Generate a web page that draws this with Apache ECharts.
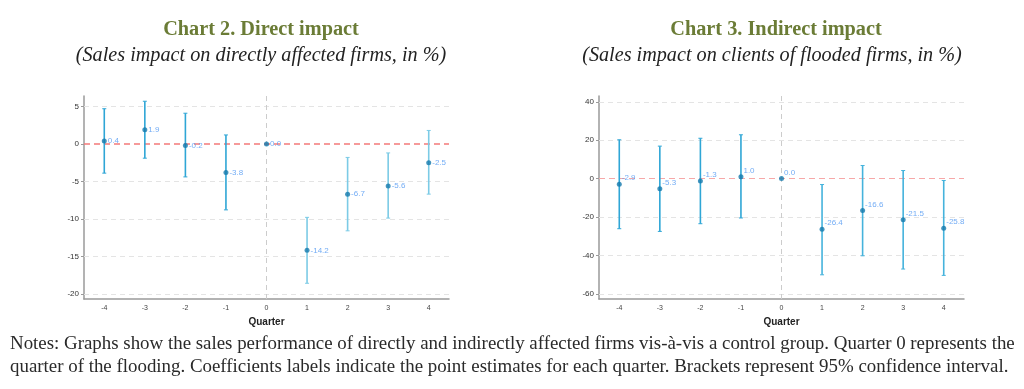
<!DOCTYPE html>
<html>
<head>
<meta charset="utf-8">
<script src="https://cdn.jsdelivr.net/npm/echarts@6/dist/echarts.min.js"></script>
<style>
html,body{margin:0;padding:0;background:#fff;}
#c{width:1024px;height:389px;}
</style>
</head>
<body>
<div id="c"></div>
<script>
var quarters = ['-4','-3','-2','-1','0','1','2','3','4'];
var directEst  = [0.4, 1.9, -0.2, -3.8, 0.0, -14.2, -6.7, -5.6, -2.5];
var directLow  = [-3.9, -1.9, -4.4, -8.8, 0.0, -18.6, -11.6, -9.9, -6.7];
var directHigh = [4.7, 5.7, 4.1, 1.2, 0.0, -9.8, -1.8, -1.2, 1.8];
var indirectEst  = [-2.9, -5.3, -1.3, 1.0, 0.0, -26.4, -16.6, -21.5, -25.8];
var indirectLow  = [-26.1, -27.5, -23.5, -20.5, 0.0, -50.1, -40.2, -47.1, -50.4];
var indirectHigh = [20.2, 16.9, 21.0, 22.8, 0.0, -3.1, 6.8, 4.2, -1.0];
var directTicks = [-20, -15, -10, -5, 0, 5];
var indirectTicks = [-60, -40, -20, 0, 20, 40];
var title1 = 'Chart 2. Direct impact';
var sub1 = '(Sales impact on directly affected firms, in %)';
var title2 = 'Chart 3. Indirect impact';
var sub2 = '(Sales impact on clients of flooded firms, in %)';
var note1 = 'Notes: Graphs show the sales performance of directly and indirectly affected firms vis-à-vis a control group. Quarter 0 represents the';
var note2 = 'quarter of the flooding. Coefficients labels indicate the point estimates for each quarter. Brackets represent 95% confidence interval.';

var chart = echarts.init(document.getElementById('c'));

function errData(low, high) {
  var out = [];
  for (var i = 0; i < quarters.length; i++) {
    if (low[i] === high[i]) continue;
    out.push([i, low[i], high[i]]);
  }
  return out;
}
function refSeries(idx, ticks) {
  var ml = ticks.filter(function (t) { return t !== 0; }).map(function (t) {
    return {yAxis: t, lineStyle: {color: '#e4e4e4', type: [5, 4], width: 1}};
  });
  ml.push({xAxis: '0', lineStyle: {color: '#cccccc', type: [5, 4], width: 1}});
  ml.push({yAxis: 0, lineStyle: {color: idx === 0 ? '#f47a7a' : '#f7a8a8', type: [6, 4], width: idx === 0 ? 1.5 : 1}});
  return {
    type: 'line', xAxisIndex: idx, yAxisIndex: idx, z: 1, data: [], silent: true,
    markLine: {silent: true, symbol: 'none', label: {show: false}, z: 1, data: ml}
  };
}
function errSeries(idx, low, high, postColor) {
  return {
    type: 'custom', xAxisIndex: idx, yAxisIndex: idx, z: 3,
    data: errData(low, high),
    renderItem: function (params, api) {
      var i = api.value(0);
      var lo = api.coord([i, api.value(1)]);
      var hi = api.coord([i, api.value(2)]);
      var col = i > 4 ? postColor : '#2fa6d6';
      var w = 2;
      var st = {stroke: col, lineWidth: 1.6};
      var stc = {stroke: col, lineWidth: 1};
      return {type: 'group', children: [
        {type: 'line', shape: {x1: lo[0], y1: lo[1], x2: hi[0], y2: hi[1]}, style: st},
        {type: 'line', shape: {x1: lo[0]-w, y1: lo[1], x2: lo[0]+w, y2: lo[1]}, style: stc},
        {type: 'line', shape: {x1: hi[0]-w, y1: hi[1], x2: hi[0]+w, y2: hi[1]}, style: stc}
      ]};
    }
  };
}
function ptSeries(idx, est, offset) {
  return {
    type: 'scatter', xAxisIndex: idx, yAxisIndex: idx, z: 5,
    symbolSize: 5, itemStyle: {color: '#1479ad'},
    data: est.map(function (v, i) { return [i, v]; }),
    label: {show: true, position: 'right', offset: offset, distance: 1,
      formatter: function (p) { return p.value[1].toFixed(1); },
      color: '#4f97f2', fontSize: 8, fontFamily: 'Liberation Sans'}
  };
}
function xAx(idx) {
  return {
    type: 'category', gridIndex: idx, data: quarters, boundaryGap: true,
    name: 'Quarter', nameLocation: 'middle', nameGap: 17,
    nameTextStyle: {fontWeight: 'bold', fontSize: 10, color: '#222', fontFamily: 'Liberation Sans'},
    axisLine: {onZero: false, lineStyle: {color: '#9a9a9a', width: 1.5}},
    axisTick: {alignWithLabel: true, length: 3, lineStyle: {color: '#9a9a9a'}},
    axisLabel: {fontSize: 7, color: '#444', margin: 6, fontFamily: 'Liberation Sans'},
    splitLine: {show: false}
  };
}
function yAx(idx, min, max, ticks) {
  return {
    type: 'value', gridIndex: idx, min: min, max: max,
    axisLine: {show: true, onZero: false, lineStyle: {color: '#9a9a9a', width: 1.5}},
    axisTick: {show: true, length: 3, customValues: ticks, lineStyle: {color: '#9a9a9a'}},
    axisLabel: {fontSize: 8, color: '#333', margin: 5, customValues: ticks, fontFamily: 'Liberation Sans'},
    splitLine: {show: false}
  };
}

var serif = 'Liberation Serif';
chart.setOption({
  backgroundColor: '#ffffff',
  animation: false,
  title: [
    {text: title1, left: 256, top: 15, textAlign: 'center',
     textStyle: {fontFamily: serif, fontWeight: 'bold', fontSize: 20.3, color: '#6b7c36'}},
    {text: sub1, left: 256, top: 41, textAlign: 'center',
     textStyle: {fontFamily: serif, fontStyle: 'italic', fontWeight: 'normal', fontSize: 20.2, color: '#222'}},
    {text: title2, left: 771, top: 15, textAlign: 'center',
     textStyle: {fontFamily: serif, fontWeight: 'bold', fontSize: 20.3, color: '#6b7c36'}},
    {text: sub2, left: 767, top: 41, textAlign: 'center',
     textStyle: {fontFamily: serif, fontStyle: 'italic', fontWeight: 'normal', fontSize: 20.2, color: '#222'}}
  ],
  grid: [
    {left: 84, top: 96, width: 365, height: 203},
    {left: 599, top: 96, width: 365, height: 203}
  ],
  xAxis: [xAx(0), xAx(1)],
  yAxis: [yAx(0, -20.7, 6.4, directTicks), yAx(1, -62.7, 43, indirectTicks)],
  series: [
    refSeries(0, directTicks),
    errSeries(0, directLow, directHigh, '#7ccbe6'),
    ptSeries(0, directEst, [0, 0]),
    refSeries(1, indirectTicks),
    errSeries(1, indirectLow, indirectHigh, '#45b3dc'),
    ptSeries(1, indirectEst, [-1, -6])
  ],
  graphic: [
    {type: 'text', left: 10, top: 335, style: {text: note1, fontFamily: serif, fontSize: 18.9, fill: '#2a2a2a'}},
    {type: 'text', left: 10, top: 358, style: {text: note2, fontFamily: serif, fontSize: 18.9, fill: '#2a2a2a'}}
  ]
});
</script>
</body>
</html>
